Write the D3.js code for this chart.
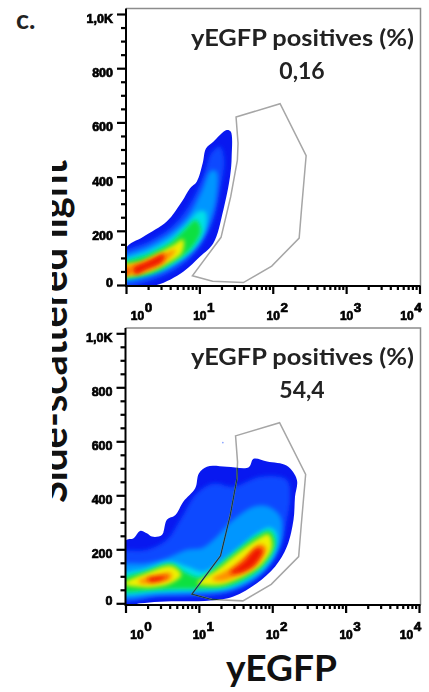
<!DOCTYPE html>
<html>
<head>
<meta charset="utf-8">
<script src="https://cdn.jsdelivr.net/npm/d3@7"></script>
<style>
    html, body { margin: 0; padding: 0; background: #fff; }
    svg { display: block; }
    .tick-text { font-family: "Liberation Sans", sans-serif; font-weight: 700; fill: #000; stroke: #000; stroke-width: 0.7px; }
    .big-text { font-family: Lato, sans-serif; font-weight: 700; fill: #222; }
</style>
</head>
<body>
<script>
// density bands are [log10(yEGFP), side scatter]
var bandColors = ["#0818f0", "#0a48ff", "#0096ff", "#00e0e8", "#0ee040", "#f0f000", "#ff9000", "#f01800"];

var topBands = [
    [[[0,135],[.236,178],[.555,234],[.76,307],[.873,357],[.964,381],[1.045,449],[1.09,504],[1.19,529],[1.373,572],[1.427,566],[1.44,473],[1.418,400],[1.327,277],[1.19,154],[1.01,105],[.78,49],[.418,0],[0,-5]]],
    [[[-.1,110],[.3,160],[.6,210],[.85,290],[1.05,400],[1.17,490],[1.28,510],[1.34,460],[1.29,363],[1.19,240],[1.055,160],[.827,86],[.464,28],[-.1,0]]],
    [[[-.1,92],[.3,142],[.6,190],[.85,255],[1.03,345],[1.15,420],[1.23,420],[1.23,326],[1.13,225],[.97,150],[.74,88],[.42,40],[-.1,18]]],
    [[[-.1,80],[.3,125],[.6,170],[.83,225],[.98,270],[1.08,270],[1.08,205],[.95,140],[.7,85],[.38,48],[-.1,30]]],
    [[[-.1,72],[.3,113],[.6,155],[.8,205],[.95,240],[1.02,200],[.87,130],[.63,82],[.35,42],[-.1,32]]],
    [[[-.1,66],[.2,85],[.42,115],[.65,148],[.78,168],[.76,118],[.53,76],[.25,44],[-.1,36]]],
    [[[-.1,62],[.22,85],[.42,105],[.68,130],[.5,78],[.25,48],[.08,38],[-.1,38]]],
    [[[.1,62],[.28,86],[.52,115],[.5,88],[.28,58],[.13,40]], [[-.05,60],[.04,50],[-.05,32]]]
];

var bottomBands = [
    [[[0,232],[.11,241],[.2,268],[.29,259],[.36,247],[.495,253],[.564,309],[.68,327],[.79,377],[.95,426],[1.0,481],[1.11,506],[1.38,506],[1.68,504],[1.745,535],[1.93,525],[2.2,509],[2.336,457],[2.31,395],[2.29,309],[2.2,210],[2.04,136],[1.79,74],[1.47,25],[1.155,10],[.47,6],[.2,0],[0,-5]]],
    [[[-.1,185],[.29,198],[.564,235],[.745,309],[.97,407],[1.2,444],[1.47,432],[1.836,469],[2.2,457],[2.245,395],[2.2,309],[2.11,210],[1.93,130],[1.7,74],[1.38,35],[1.02,25],[.47,22],[-.1,15]]],
    [[[-.1,136],[.29,148],[.564,167],[.836,198],[1.05,205],[1.2,235],[1.47,309],[1.745,358],[1.95,358],[2.11,321],[2.13,247],[2.06,185],[1.9,123],[1.655,74],[1.38,47],[1.02,37],[.47,31],[-.1,27]]],
    [[[-.1,99],[.29,130],[.61,154],[.836,136],[1.06,117],[1.29,154],[1.56,210],[1.79,259],[1.97,281],[2.06,259],[2.04,198],[1.88,130],[1.61,80],[1.336,52],[1.02,47],[.47,43],[-.1,40]]],
    [[[-.1,82],[.29,120],[.63,146],[.81,115],[1.02,96],[1.245,136],[1.56,204],[1.79,250],[1.97,268],[2.04,222],[1.89,145],[1.61,88],[1.336,60],[1.02,54],[.745,54],[.427,50],[-.1,48]]],
    [[[-.02,72],[.29,112],[.63,138],[.76,105],[.6,72],[.29,58]], [[.98,74],[1.245,124],[1.56,192],[1.79,236],[1.95,256],[2.0,210],[1.86,146],[1.56,94],[1.29,68]]],
    [[[.18,84],[.38,102],[.62,112],[.62,92],[.4,76],[.2,74]], [[1.18,90],[1.43,130],[1.655,180],[1.836,220],[1.92,205],[1.8,146],[1.56,106],[1.29,82]]],
    [[[.3,92],[.47,100],[.58,100],[.48,84],[.33,80]], [[1.42,112],[1.61,155],[1.79,205],[1.87,198],[1.77,145],[1.56,112]]]
];

var bottomStray = [[1.327, 595]];

// gate is the same on both panels
var gate = [[1.5,620],[2.1,669],[2.455,477],[2.395,289],[2.36,173],[1.986,70],[1.6,9],[1.18,14],[.905,34],[1.295,176],[1.427,326],[1.518,461],[1.527,523]];

var yMajor = [0, 200, 400, 600, 800, 1000];
var yMinor = d3.range(0, 1001, 50).filter(function(v) { return v % 200 !== 0; });
var yLabels = ["0", "200", "400", "600", "800", "1,0K"];
var yLabelShift = [-3, 4, 4, 4, 4, 4];
var xMajor = [1, 10, 100, 1000, 10000];
var xLabelExp = ["0", "1", "2", "3", "4"];
var xNudge = [15, 4, 4, 4, -9];

var gateLabel = "yEGFP positives (%)";
var topValue = "0,16";
var bottomValue = "54,4";

var svg = d3.select("body").append("svg")
    .attr("width", 429)
    .attr("height", 692);

var defs = svg.append("defs");
defs.append("filter").attr("id", "band-blur")
    .attr("x", "-30%").attr("y", "-30%").attr("width", "160%").attr("height", "160%")
    .append("feGaussianBlur").attr("stdDeviation", 2.2);
defs.append("filter").attr("id", "soft")
    .append("feGaussianBlur").attr("stdDeviation", 0.4);

// y label sits behind the panels, its top is cropped off in the original
defs.append("clipPath").attr("id", "label-clip")
    .append("rect").attr("x", 52).attr("y", 150).attr("width", 40).attr("height", 360);

svg.append("g")
    .attr("clip-path", "url(#label-clip)")
    .append("text")
    .attr("class", "big-text")
    .attr("transform", "translate(66.5, 503) rotate(-90)")
    .attr("textLength", 343)
    .attr("lengthAdjust", "spacingAndGlyphs")
    .style("font-size", "40px")
    .style("fill", "#111")
    .text("Side-scattered light");

svg.append("text")
    .attr("class", "big-text")
    .attr("x", 16).attr("y", 29)
    .style("font-size", "27px")
    .text("c.");

svg.append("text")
    .attr("class", "big-text")
    .attr("x", 226).attr("y", 681)
    .attr("textLength", 111)
    .attr("lengthAdjust", "spacingAndGlyphs")
    .style("font-size", "36px")
    .style("fill", "#111")
    .text("yEGFP");

function drawPanel(id, frame, bands, value, stray) {
    var x = d3.scaleLog().domain([1, 10000]).range([frame.left, frame.xEnd]),
        y = d3.scaleLinear().domain([0, 1000]).range([frame.y0, frame.y1]);

    var line = d3.line()
        .x(function(d) { return x(Math.pow(10, d[0])); })
        .y(function(d) { return y(d[1]); })
        .curve(d3.curveCatmullRomClosed.alpha(0.5));
    var gateLine = d3.line()
        .x(function(d) { return x(Math.pow(10, d[0])); })
        .y(function(d) { return y(d[1]); })
        .curve(d3.curveLinearClosed);

    var g = svg.append("g");

    // white card covers the label where the panel overlaps it
    g.append("rect")
        .attr("x", frame.left).attr("y", frame.top)
        .attr("width", frame.right - frame.left)
        .attr("height", frame.bottom - frame.top)
        .attr("fill", "#fff");

    defs.append("clipPath").attr("id", id + "-plot")
        .append("rect")
        .attr("x", frame.left).attr("y", frame.top)
        .attr("width", frame.right - frame.left)
        .attr("height", frame.bottom - frame.top);
    defs.append("clipPath").attr("id", id + "-outline")
        .append("path")
        .attr("d", line(bands[0][0]));

    var plot = g.append("g").attr("clip-path", "url(#" + id + "-plot)");
    var density = plot.append("g").attr("clip-path", "url(#" + id + "-outline)");

    density.append("rect")
        .attr("x", frame.left).attr("y", frame.top)
        .attr("width", frame.right - frame.left)
        .attr("height", frame.bottom - frame.top)
        .attr("fill", bandColors[0]);

    bands.slice(1).forEach(function(polys, i) {
        density.append("g")
            .attr("filter", "url(#band-blur)")
            .selectAll("path")
            .data(polys).enter()
            .append("path")
            .attr("d", line)
            .attr("fill", bandColors[i + 1]);
    });

    plot.selectAll("circle.stray")
        .data(stray).enter()
        .append("circle")
        .attr("class", "stray")
        .attr("cx", function(d) { return x(Math.pow(10, d[0])); })
        .attr("cy", function(d) { return y(d[1]); })
        .attr("r", 0.8)
        .attr("fill", "#7f9cff");

    plot.append("path")
        .attr("d", gateLine(gate))
        .attr("fill", "none")
        .attr("stroke", "#a6a6a6")
        .attr("stroke-width", 1.5)
        .attr("filter", "url(#soft)");
    // gate reads dark where it crosses the density
    plot.append("g")
        .attr("clip-path", "url(#" + id + "-outline)")
        .append("path")
        .attr("d", gateLine(gate))
        .attr("fill", "none")
        .attr("stroke", "#123a4a")
        .attr("stroke-width", 1.3)
        .attr("filter", "url(#soft)");

    // frame, top and right are grey
    g.append("path")
        .attr("d", "M" + frame.left + "," + frame.top + "H" + frame.right + "V" + frame.bottom)
        .attr("fill", "none")
        .attr("stroke", "#8c8c8c")
        .attr("stroke-width", 1.5);

    var yAxis = d3.axisLeft(y).tickValues(yMajor).tickSize(9).tickFormat(function(d, i) { return yLabels[i]; });
    var yMinorAxis = d3.axisLeft(y).tickValues(yMinor).tickSize(5).tickFormat("");
    var xAxis = d3.axisBottom(x).tickValues(xMajor).tickSize(8).tickFormat("");
    var minors = [];
    xMajor.slice(0, -1).forEach(function(m) {
        d3.range(2, 10).forEach(function(k) { minors.push(m * k); });
    });
    var xMinorAxis = d3.axisBottom(x).tickValues(minors).tickSize(4).tickFormat("");

    var axes = g.append("g").attr("filter", "url(#soft)");

    var gy = axes.append("g").attr("transform", "translate(" + frame.left + ",0)").call(yAxis);
    axes.append("g").attr("transform", "translate(" + frame.left + ",0)").call(yMinorAxis)
        .call(function(s) { s.select(".domain").remove(); });
    var gx = axes.append("g").attr("transform", "translate(0," + frame.bottom + ")").call(xAxis);
    axes.append("g").attr("transform", "translate(0," + frame.bottom + ")").call(xMinorAxis)
        .call(function(s) { s.select(".domain").remove(); });

    axes.selectAll(".tick line").attr("stroke", "#000").attr("stroke-width", 2.2);
    axes.selectAll(".domain").remove();
    axes.append("path")
        .attr("d", "M" + frame.left + "," + frame.top + "V" + frame.bottom + "H" + frame.right)
        .attr("fill", "none").attr("stroke", "#000").attr("stroke-width", 2);

    gy.selectAll(".tick text")
        .attr("class", "tick-text")
        .attr("x", -13)
        .attr("y", function(d, i) { return yLabelShift[i]; })
        .attr("dy", "0.36em")
        .style("font-size", "12.5px");

    gx.selectAll(".tick").each(function(d, i) {
        var t = d3.select(this).append("text")
            .attr("class", "tick-text")
            .attr("text-anchor", "middle")
            .attr("x", xNudge[i])
            .attr("y", 34);
        t.append("tspan").style("font-size", "12px").text("10");
        t.append("tspan").attr("dx", 0.5).attr("dy", -8).style("font-size", "13.5px").text(xLabelExp[i]);
    });

    g.append("text")
        .attr("class", "big-text")
        .attr("x", 191).attr("y", frame.top + 37)
        .attr("textLength", 223)
        .attr("lengthAdjust", "spacingAndGlyphs")
        .style("font-size", "22px")
        .text(gateLabel);

    g.append("text")
        .attr("class", "big-text")
        .attr("x", 302).attr("y", frame.top + 70)
        .attr("text-anchor", "middle")
        .style("font-size", "23px")
        .text(value);
}

drawPanel("top", { left: 126, right: 420.5, top: 8.5, bottom: 286, xEnd: 419.5, y0: 285, y1: 14 }, topBands, topValue, []);
drawPanel("bottom", { left: 125.5, right: 420.5, top: 328, bottom: 605, xEnd: 419, y0: 603.3, y1: 333.3 }, bottomBands, bottomValue, bottomStray);
</script>
</body>
</html>
